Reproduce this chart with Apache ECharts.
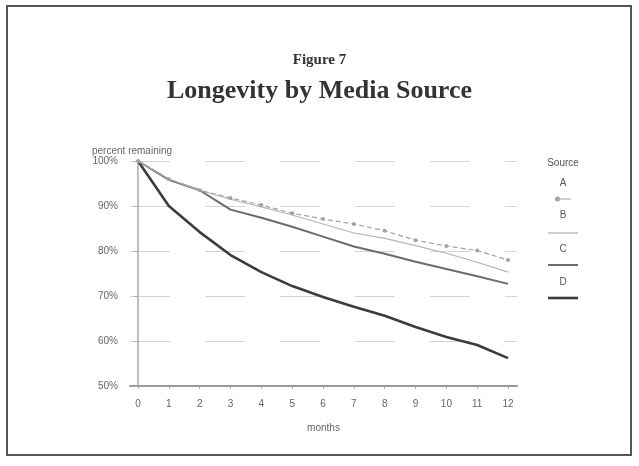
<!DOCTYPE html>
<html>
<head>
<meta charset="utf-8">
<script src="https://cdn.jsdelivr.net/npm/echarts@6/dist/echarts.min.js"></script>
<style>
  html, body { margin: 0; padding: 0; background: #fff; }
  #chart { width: 639px; height: 466px; }
</style>
</head>
<body>
<div id="chart"></div>
<script>
// Months since acquisition
const months = [0, 1, 2, 3, 4, 5, 6, 7, 8, 9, 10, 11, 12];

// Percent of subscribers remaining, by media source
const sourceA = [100, 96, 93.5, 91.8, 90.2, 88.4, 87.1, 86, 84.5, 82.4, 81.1, 80.1, 78];
const sourceB = [100, 96, 93.5, 91.5, 89.8, 88, 86, 84, 82.8, 81.2, 79.5, 77.5, 75.3];
const sourceC = [100, 95.8, 93.5, 89.2, 87.4, 85.4, 83.2, 81, 79.4, 77.6, 76, 74.4, 72.7];
const sourceD = [100, 90, 84.2, 79.1, 75.3, 72.2, 69.8, 67.6, 65.6, 63.1, 60.9, 59.1, 56.2];

const sourceNames = ['A', 'B', 'C', 'D'];
const sourceValues = [sourceA, sourceB, sourceC, sourceD];

const sans = 'Liberation Sans, Arial, sans-serif';
const serif = 'Liberation Serif, Times New Roman, serif';

const lineStyles = {
  A: { color: '#a2a2a2', width: 1.2, type: [5, 3] },
  B: { color: '#b4b4b4', width: 1.2, type: 'solid' },
  C: { color: '#6c6c6c', width: 2, type: 'solid' },
  D: { color: '#3c3c3c', width: 2.6, type: 'solid' }
};

const series = sourceNames.map((name, i) => ({
  name: name,
  type: 'line',
  data: months.map((m, j) => [m, sourceValues[i][j]]),
  symbol: name === 'A' ? 'circle' : 'none',
  symbolSize: 4,
  showSymbol: name === 'A',
  itemStyle: { color: lineStyles[name].color },
  lineStyle: lineStyles[name],
  z: 10 - i,
  animation: false
}));

// Legend swatches, one per source, stacked under their letters
const dotLineIcon = 'path://M0,2.5 A2.5,2.5 0 1,0 5,2.5 A2.5,2.5 0 1,0 0,2.5 Z M5,2 L16,2 L16,3 L5,3 Z';
const legendRows = [
  { name: 'A', cy: 199, left: 555, w: 16, h: 5, icon: dotLineIcon },
  { name: 'B', cy: 233, left: 548, w: 30, h: 1.3, icon: 'rect' },
  { name: 'C', cy: 265, left: 548, w: 30, h: 2, icon: 'rect' },
  { name: 'D', cy: 298, left: 548, w: 30, h: 2.6, icon: 'rect' }
];
const legends = legendRows.map(r => ({
  data: [{ name: r.name, icon: r.icon }],
  left: r.left,
  top: r.cy - r.h / 2,
  padding: 0,
  itemWidth: r.w,
  itemHeight: r.h,
  itemGap: 0,
  selectedMode: false,
  formatter: () => '',
  textStyle: { fontSize: 1, padding: 0 }
}));

const legendText = [
  { text: 'Source', y: 163 },
  { text: 'A', y: 183 },
  { text: 'B', y: 215 },
  { text: 'C', y: 249 },
  { text: 'D', y: 282 }
].map(t => ({
  type: 'text',
  x: 563,
  y: t.y,
  style: {
    text: t.text,
    fill: '#555',
    font: '10px ' + sans,
    align: 'center',
    verticalAlign: 'middle'
  }
}));

const chart = echarts.init(document.getElementById('chart'));
chart.setOption({
  backgroundColor: '#fff',
  animation: false,
  title: [
    {
      text: 'Figure 7',
      left: 'center',
      top: 48,
      textStyle: { fontFamily: serif, fontSize: 15, fontWeight: 'bold', color: '#333' }
    },
    {
      text: 'Longevity by Media Source',
      left: 'center',
      top: 73,
      textStyle: { fontFamily: serif, fontSize: 26, fontWeight: 'bold', color: '#333' }
    },
    {
      text: 'percent remaining',
      left: 87,
      top: 141,
      textStyle: { fontFamily: sans, fontSize: 10, fontWeight: 'normal', color: '#666' }
    }
  ],
  grid: { left: 130, right: 122, top: 161, bottom: 80, containLabel: false },
  legend: legends,
  xAxis: {
    type: 'value',
    min: -0.26,
    max: 12.29,
    name: 'months',
    nameLocation: 'middle',
    nameGap: 37,
    nameTextStyle: { fontFamily: sans, fontSize: 10, color: '#666' },
    axisLine: { show: true, lineStyle: { color: '#9a9a9a', width: 2 } },
    axisTick: { show: true, customValues: months, length: 3, lineStyle: { color: '#aaa' } },
    axisLabel: {
      customValues: months,
      margin: 13,
      fontFamily: sans,
      fontSize: 10,
      color: '#666'
    },
    splitLine: { show: false }
  },
  yAxis: {
    type: 'value',
    min: 50,
    max: 100,
    interval: 10,
    axisLine: { show: true, lineStyle: { color: '#aaa', width: 1.5 } },
    axisTick: { show: true, length: 4, lineStyle: { color: '#aaa' } },
    axisLabel: {
      margin: 12,
      fontFamily: sans,
      fontSize: 10,
      color: '#666',
      formatter: v => v + '%'
    },
    splitLine: { show: true, lineStyle: { color: '#d4d4d4', width: 1, type: [40, 35] } }
  },
  series: series,
  graphic: [
    {
      type: 'rect',
      shape: { x: 7, y: 6, width: 624, height: 449 },
      style: { fill: 'none', stroke: '#555', lineWidth: 2 },
      silent: true
    }
  ].concat(legendText)
});
</script>
</body>
</html>
